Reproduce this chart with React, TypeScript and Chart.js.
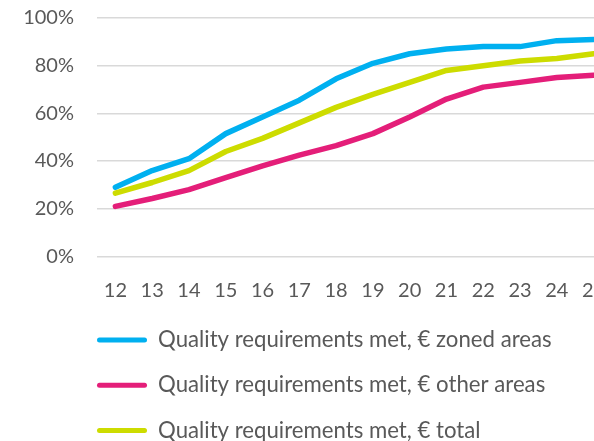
import React, { useEffect, useRef } from "react";
import { Chart, registerables } from "chart.js";

Chart.register(...registerables);

const categories = ["12", "13", "14", "15", "16", "17", "18", "19", "20", "21", "22", "23", "24", "25"];
const zonedAreas = [29, 36, 41, 51.5, 58.5, 65.5, 74.5, 81, 85, 87, 88, 88, 90.5, 91];
const otherAreas = [21, 24.3, 28, 33, 38, 42.5, 46.5, 51.5, 58.5, 66, 71, 73, 75, 76];
const totalAreas = [26.5, 31, 36, 44, 49.5, 56, 62.5, 68, 73, 78, 80, 82, 83, 85];
const seriesNames = [
  "Quality requirements met, € zoned areas",
  "Quality requirements met, € other areas",
  "Quality requirements met, € total",
];
const seriesColors = ["#00B0F0", "#E41E79", "#CDDC00"];

const FONT = "Lato, 'Open Sans', sans-serif";
const GREY = "#595959";

const legendPlacer = {
  id: "legendPlacer",
  afterLayout(chart: any) {
    const lg = chart.legend;
    if (lg) {
      lg.left = 74;
      lg.top = 306;
    }
  },
};

export default function App() {
  const ref = useRef<HTMLCanvasElement | null>(null);
  useEffect(() => {
    if (!ref.current) return;
    const data = [zonedAreas, otherAreas, totalAreas];
    const chart = new Chart(ref.current, {
      type: "line",
      data: {
        labels: categories,
        datasets: data.map((d, i) => ({
          label: seriesNames[i],
          data: d,
          borderColor: seriesColors[i],
          backgroundColor: seriesColors[i],
          borderWidth: 5.5,
          pointRadius: 0,
          tension: 0,
          borderCapStyle: "round" as const,
          borderJoinStyle: "round" as const,
          fill: false,
        })),
      },
      options: {
        animation: false,
        responsive: true,
        maintainAspectRatio: false,
        layout: { padding: { top: 18, left: 0, right: 8, bottom: 0 } },
        plugins: {
          tooltip: { enabled: false },
          legend: {
            position: "bottom",
            align: "start",
            labels: {
              color: GREY,
              font: { family: FONT, size: 22.2 },
              boxWidth: 50,
              boxHeight: 5,
              padding: 23,
              useBorderRadius: true,
              borderRadius: 2.5,
              generateLabels: (c: any) =>
                Chart.defaults.plugins.legend.labels.generateLabels(c).map((l: any) => ({
                  ...l,
                  lineWidth: 0,
                })),
            },
          },
        },
        scales: {
          x: {
            offset: true,
            grid: { display: false },
            border: { display: false },
            ticks: { color: GREY, font: { family: FONT, size: 20 }, padding: 14, maxRotation: 0, autoSkip: false },
            afterFit: (s: any) => {
              s.height = 49;
            },
          },
          y: {
            min: 0,
            max: 100,
            grid: { color: "#D9D9D9", lineWidth: 1.5, drawTicks: true, tickLength: 23, tickColor: "rgba(0,0,0,0)" },
            border: { display: false },
            ticks: {
              stepSize: 20,
              color: GREY,
              font: { family: FONT, size: 20 },
              padding: 0,
              callback: (v: any) => v + "%",
            },
            afterFit: (s: any) => {
              s.width = 97;
            },
          },
        },
      },
      plugins: [legendPlacer],
    });
    return () => chart.destroy();
  }, []);

  return (
    <div style={{ position: "fixed", left: 0, top: 0, width: 594, height: 441, overflow: "hidden", background: "#fff" }}
    >
      <div style={{ width: 620, height: 451, position: "relative" }}>
        <canvas ref={ref} />
      </div>
    </div>
  );
}
